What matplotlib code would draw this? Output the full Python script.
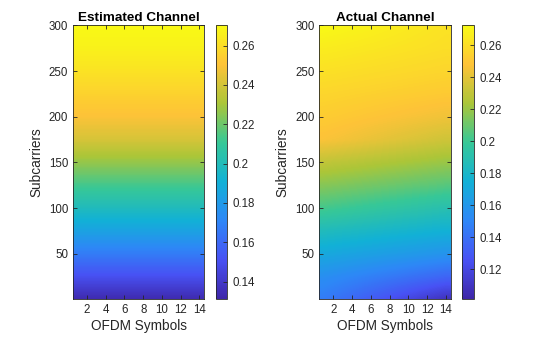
import matplotlib
matplotlib.use("Agg")
import matplotlib.pyplot as plt
from matplotlib.colors import LinearSegmentedColormap

# ---- data ----
# anchor subcarriers (pixel centres of the coarse grid)
SUBCARRIERS = [0, 25, 50, 75, 100, 125, 150, 175, 200, 225, 250, 275, 300]
SYMBOLS = [1, 14]

# estimated channel magnitude: same for every OFDM symbol
EST_MAG = [0.133, 0.150, 0.167, 0.184, 0.199, 0.213, 0.227,
           0.241, 0.250, 0.256, 0.262, 0.267, 0.270]

# actual channel magnitude, first and last OFDM symbol
ACT_SYM1 = [0.145, 0.155, 0.170, 0.185, 0.202, 0.216, 0.230,
            0.247, 0.252, 0.256, 0.261, 0.266, 0.272]
ACT_SYM14 = [0.108, 0.135, 0.158, 0.175, 0.190, 0.206, 0.220,
             0.234, 0.244, 0.251, 0.256, 0.260, 0.262]

EST_CLIM = (0.1312, 0.2705)
ACT_CLIM = (0.1015, 0.2725)

X_TICKS = [2, 4, 6, 8, 10, 12, 14]
Y_TICKS = [50, 100, 150, 200, 250, 300]
EST_CB_TICKS = [0.14, 0.16, 0.18, 0.2, 0.22, 0.24, 0.26]
ACT_CB_TICKS = [0.12, 0.14, 0.16, 0.18, 0.2, 0.22, 0.24, 0.26]

# parula(8)
PARULA = ["#3e26a8", "#4852f4", "#2e87f7", "#12b1d6",
          "#37c897", "#abc639", "#fec338", "#f9fb15"]
parula = LinearSegmentedColormap.from_list("parula", PARULA, N=256)

TXT = "#262626"
plt.rcParams.update({
    "font.family": ["Liberation Sans", "DejaVu Sans"],
    "font.size": 8.3,
    "text.color": TXT,
    "axes.labelcolor": TXT,
    "axes.edgecolor": TXT,
    "axes.linewidth": 0.6,
    "xtick.color": TXT,
    "ytick.color": TXT,
    "xtick.direction": "in",
    "ytick.direction": "in",
    "xtick.major.size": 3,
    "ytick.major.size": 3,
    "xtick.major.width": 0.6,
    "ytick.major.width": 0.6,
    "xtick.major.pad": 3.5,
    "ytick.major.pad": 3.5,
})

fig = plt.figure(figsize=(5.6, 3.37), dpi=100)


def panel(ax_rect, cb_rect, grid, clim, cb_ticks, title):
    ax = fig.add_axes(ax_rect)
    ncol = len(grid[0])
    # pixel centres land on the anchor subcarriers / symbols
    dy = SUBCARRIERS[1] - SUBCARRIERS[0]
    if ncol > 1:
        dx = SYMBOLS[1] - SYMBOLS[0]
        ext = [SYMBOLS[0] - dx / 2, SYMBOLS[1] + dx / 2,
               SUBCARRIERS[0] - dy / 2, SUBCARRIERS[-1] + dy / 2]
    else:
        ext = [0.5, 14.5, SUBCARRIERS[0] - dy / 2, SUBCARRIERS[-1] + dy / 2]
    im = ax.imshow(grid, origin="lower", extent=ext, aspect="auto",
                   cmap=parula, vmin=clim[0], vmax=clim[1],
                   interpolation="bilinear", interpolation_stage="data")
    ax.set_xlim(0.5, 14.5)
    ax.set_ylim(0.5, 300.5)
    ax.set_xticks(X_TICKS)
    ax.set_yticks(Y_TICKS)
    ax.tick_params(top=True, right=True)
    ax.set_xlabel("OFDM Symbols", fontsize=9.8, labelpad=2)
    ax.set_ylabel("Subcarriers", fontsize=9.8, labelpad=4)
    ax.set_title(title, fontsize=9.7, fontweight="bold", pad=3, color="black")

    cax = fig.add_axes(cb_rect)
    cb = fig.colorbar(im, cax=cax, ticks=cb_ticks)
    cb.outline.set_linewidth(0.6)
    cb.outline.set_edgecolor(TXT)
    cax.tick_params(direction="in", length=3, width=0.6, pad=4, labelsize=8.3)
    cb.ax.set_yticklabels([f"{t:g}" for t in cb_ticks])
    return ax


est_grid = [[v] for v in EST_MAG]
act_grid = [[a, b] for a, b in zip(ACT_SYM1, ACT_SYM14)]

panel([0.1304, 0.1128, 0.2339, 0.8131], [0.3852, 0.1128, 0.0196, 0.8131],
      est_grid, EST_CLIM, EST_CB_TICKS, "Estimated Channel")
panel([0.5702, 0.1128, 0.2346, 0.8131], [0.8255, 0.1128, 0.0214, 0.8131],
      act_grid, ACT_CLIM, ACT_CB_TICKS, "Actual Channel")

fig.savefig("out.png", dpi=100)
